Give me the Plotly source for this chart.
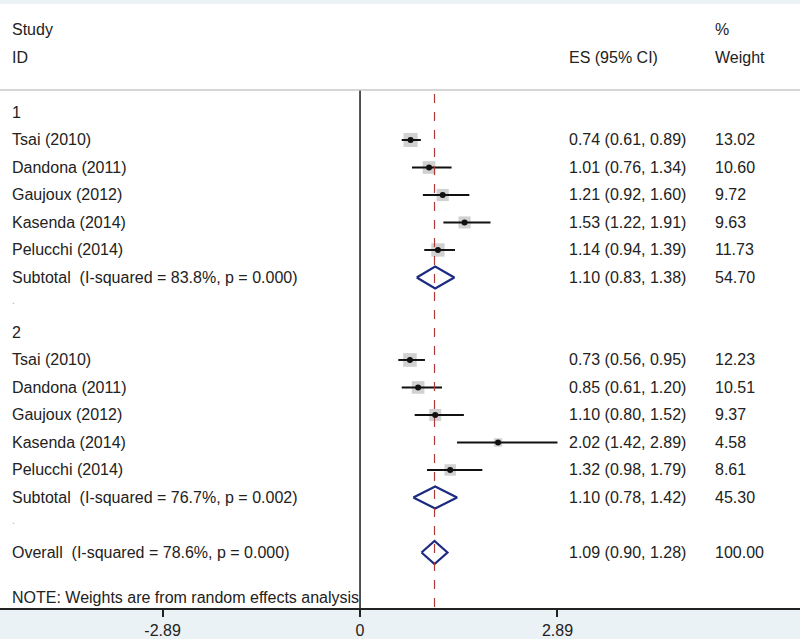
import plotly.graph_objects as go

# ---- data ----
study_labels = ["Tsai (2010)", "Dandona (2011)", "Gaujoux (2012)", "Kasenda (2014)", "Pelucchi (2014)"]
g1_es = [0.74, 1.01, 1.21, 1.53, 1.14]
g1_lo = [0.61, 0.76, 0.92, 1.22, 0.94]
g1_hi = [0.89, 1.34, 1.60, 1.91, 1.39]
g1_w = [13.02, 10.60, 9.72, 9.63, 11.73]
g2_es = [0.73, 0.85, 1.10, 2.02, 1.32]
g2_lo = [0.56, 0.61, 0.80, 1.42, 0.98]
g2_hi = [0.95, 1.20, 1.52, 2.89, 1.79]
g2_w = [12.23, 10.51, 9.37, 4.58, 8.61]
sub_labels = ["Subtotal  (I-squared = 83.8%, p = 0.000)", "Subtotal  (I-squared = 76.7%, p = 0.002)"]
sub_es = [1.10, 1.10]
sub_lo = [0.83, 0.78]
sub_hi = [1.38, 1.42]
sub_w = [54.70, 45.30]
overall_label = "Overall  (I-squared = 78.6%, p = 0.000)"
overall_es = 1.09
overall_lo = 0.90
overall_hi = 1.28
overall_w = 100.00
group_labels = ["1", "2"]
note = "NOTE: Weights are from random effects analysis"
tick_vals = [-2.89, 0, 2.89]
tick_text = ["-2.89", "0", "2.89"]

# ---- row layout (row index, top to bottom) ----
g1_rows = [4, 5, 6, 7, 8]
g2_rows = [12, 13, 14, 15, 16]
group_rows = [3, 11]
sub_rows = [9, 17]
dot_rows = [10, 18]
overall_row = 19
note_row = 20.65
sep_row = 2.18

X_LABEL = -5.13
X_ES = 3.03
X_W = 5.17
FONT = "Liberation Sans, Arial, sans-serif"
FS = 16
TXT = "#222222"

fig = go.Figure()

es_all = g1_es + g2_es
lo_all = g1_lo + g2_lo
hi_all = g1_hi + g2_hi
w_all = g1_w + g2_w
rows_all = g1_rows + g2_rows

# zero line and overall dashed line
fig.add_shape(type="line", x0=0, x1=0, y0=sep_row, y1=21.5, xref="x", yref="y",
              line=dict(color="#1a1a1a", width=1.5))
fig.add_shape(type="line", x0=overall_es, x1=overall_es, y0=sep_row + 0.15, y1=21.5, xref="x", yref="y",
              line=dict(color="#b03a3a", width=1.2, dash="dash"))
# header separator
fig.add_shape(type="line", x0=0, x1=1, xref="paper", y0=sep_row, y1=sep_row, yref="y",
              line=dict(color="#c8c8c8", width=1.5))

# grey weight squares
fig.add_trace(go.Scatter(
    x=es_all, y=rows_all, mode="markers",
    marker=dict(symbol="square", color="#bdbdbd",
                size=[3.9 * (w ** 0.5) for w in w_all], line=dict(width=0)),
    hoverinfo="skip", showlegend=False))

# CI lines
cx, cy = [], []
for lo, hi, r in zip(lo_all, hi_all, rows_all):
    cx += [lo, hi, None]
    cy += [r, r, None]
fig.add_trace(go.Scatter(x=cx, y=cy, mode="lines", line=dict(color="#111111", width=2),
                         hoverinfo="skip", showlegend=False))
# point estimates
fig.add_trace(go.Scatter(x=es_all, y=rows_all, mode="markers",
                         marker=dict(symbol="circle", color="#111111", size=6),
                         hoverinfo="skip", showlegend=False))

# diamonds
def diamond(es, lo, hi, r, h):
    return [lo, es, hi, es, lo], [r, r - h, r, r + h, r]

dx, dy = [], []
for es, lo, hi, r in zip(sub_es, sub_lo, sub_hi, sub_rows):
    xs, ys = diamond(es, lo, hi, r, 0.4)
    dx += xs + [None]
    dy += ys + [None]
xs, ys = diamond(overall_es, overall_lo, overall_hi, overall_row, 0.42)
dx += xs
dy += ys
fig.add_trace(go.Scatter(x=dx, y=dy, mode="lines", line=dict(color="#1c2a80", width=2.2),
                         hoverinfo="skip", showlegend=False))

anns = []
def txt(x, y, s, color=TXT, size=FS):
    anns.append(dict(x=x, y=y, xref="x", yref="y", text=s, showarrow=False,
                     xanchor="left", yanchor="middle", font=dict(family=FONT, size=size, color=color)))

# header
txt(X_LABEL, 0, "Study")
txt(X_LABEL, 1, "ID")
txt(X_ES, 1, "ES (95% CI)")
txt(X_W, 0, "%")
txt(X_W, 1, "Weight")

for g, r in zip(group_labels, group_rows):
    txt(X_LABEL, r, g)
for r in dot_rows:
    txt(X_LABEL, r - 0.15, ".", color="#c0a0a0", size=10)

for rows, es, lo, hi, w in [(g1_rows, g1_es, g1_lo, g1_hi, g1_w), (g2_rows, g2_es, g2_lo, g2_hi, g2_w)]:
    for lab, r, e, l, h, ww in zip(study_labels, rows, es, lo, hi, w):
        txt(X_LABEL, r, lab)
        txt(X_ES, r, f"{e:.2f} ({l:.2f}, {h:.2f})")
        txt(X_W, r, f"{ww:.2f}")

for lab, r, e, l, h, ww in zip(sub_labels, sub_rows, sub_es, sub_lo, sub_hi, sub_w):
    txt(X_LABEL, r, lab)
    txt(X_ES, r, f"{e:.2f} ({l:.2f}, {h:.2f})")
    txt(X_W, r, f"{ww:.2f}")

txt(X_LABEL, overall_row, overall_label)
txt(X_ES, overall_row, f"{overall_es:.2f} ({overall_lo:.2f}, {overall_hi:.2f})")
txt(X_W, overall_row, f"{overall_w:.2f}")
txt(X_LABEL, note_row, note, size=16)

fig.update_layout(
    width=800, height=639,
    margin=dict(l=0, r=0, t=4, b=31),
    paper_bgcolor="#eaf2f6",
    plot_bgcolor="#ffffff",
    annotations=anns,
    showlegend=False,
    xaxis=dict(range=[-5.27, 6.44], tickvals=tick_vals, ticktext=tick_text,
               showgrid=False, zeroline=False, showline=True, linecolor="#222222", linewidth=1.5,
               ticks="outside", ticklen=7, tickcolor="#222222", tickwidth=1.5,
               tickfont=dict(family=FONT, size=FS, color=TXT), fixedrange=True),
    yaxis=dict(range=[21.02, -0.945], showgrid=False, zeroline=False, showticklabels=False,
               showline=False, fixedrange=True),
)

fig.write_html("out.html", config={"displayModeBar": False},
               post_script="document.body.style.margin='0px';document.body.style.overflow='hidden';")
